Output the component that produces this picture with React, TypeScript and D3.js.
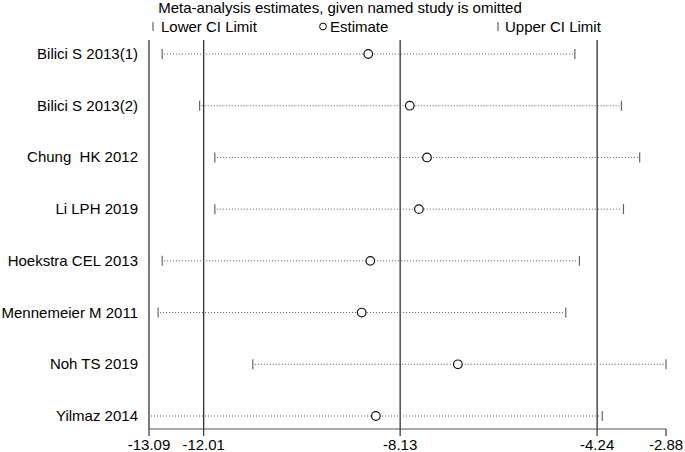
import * as d3 from "d3";

const studies = [
  "Bilici S 2013(1)",
  "Bilici S 2013(2)",
  "Chung  HK 2012",
  "Li LPH 2019",
  "Hoekstra CEL 2013",
  "Mennemeier M 2011",
  "Noh TS 2019",
  "Yilmaz 2014",
];
const lower = [-12.83, -12.09, -11.79, -11.79, -12.83, -12.91, -11.04, -13.09];
const estimate = [-8.76, -7.94, -7.6, -7.76, -8.72, -8.89, -6.99, -8.61];
const upper = [-4.68, -3.76, -3.4, -3.72, -4.59, -4.86, -2.88, -4.14];

const tickValues = [-13.09, -12.01, -8.13, -4.24, -2.88];
const refLines = [-12.01, -8.13, -4.24];

const W = 685;
const H = 452;
const font = "'Liberation Sans', Arial, sans-serif";

export default function App() {
  const x = d3.scaleLinear().domain([-13.09, -2.88]).range([149, 666]);
  const y = d3.scalePoint().domain(studies).range([54, 416]);
  const top = 40;
  const axisY = 429;

  return (
    <svg
      width={W}
      height={H}
      style={{ position: "absolute", left: 0, top: 0, background: "#fff" }}
      fontFamily={font}
    >
      <text x={340} y={12.5} fontSize={15} textAnchor="middle" fill="#000">
        Meta-analysis estimates, given named study is omitted
      </text>

      {/* legend */}
      <g fontSize={15} fill="#000">
        <line x1={153} x2={153} y1={22} y2={31} stroke="#666" strokeWidth={1.2} />
        <text x={161} y={31.5}>Lower CI Limit</text>
        <circle cx={323} cy={26.5} r={3.4} fill="none" stroke="#000" strokeWidth={1} />
        <text x={330} y={31.5}>Estimate</text>
        <line x1={498} x2={498} y1={22} y2={31} stroke="#666" strokeWidth={1.2} />
        <text x={505} y={31.5}>Upper CI Limit</text>
      </g>

      {/* reference lines */}
      {refLines.map((v) => (
        <line key={v} x1={x(v)} x2={x(v)} y1={top} y2={axisY} stroke="#222" strokeWidth={1.2} />
      ))}
      <line x1={x(-13.09)} x2={x(-13.09)} y1={top} y2={axisY} stroke="#222" strokeWidth={1.2} />

      {/* study rows */}
      {studies.map((s, i) => {
        const yy = y(s)!;
        return (
          <g key={s}>
            <text
              x={138}
              y={yy + 5}
              fontSize={15}
              textAnchor="end"
              fill="#000"
              style={{ whiteSpace: "pre" }}
            >
              {s}
            </text>
            <line
              x1={x(lower[i]) + 2}
              x2={x(upper[i]) - 2}
              y1={yy}
              y2={yy}
              stroke="#555"
              strokeWidth={1}
              strokeDasharray="1,2"
            />
            {i !== studies.length - 1 && (
              <line x1={x(lower[i])} x2={x(lower[i])} y1={yy - 5} y2={yy + 5} stroke="#666" strokeWidth={1.2} />
            )}
            <line x1={x(upper[i])} x2={x(upper[i])} y1={yy - 5} y2={yy + 5} stroke="#666" strokeWidth={1.2} />
            <circle cx={x(estimate[i])} cy={yy} r={4.3} fill="#fff" stroke="#111" strokeWidth={1.2} />
          </g>
        );
      })}

      {/* x axis */}
      <line x1={x(-13.09)} x2={x(-2.88)} y1={axisY} y2={axisY} stroke="#555" strokeWidth={1.2} />
      {tickValues.map((v) => (
        <g key={v}>
          <line x1={x(v)} x2={x(v)} y1={axisY} y2={axisY + 7} stroke="#333" strokeWidth={1.2} />
          <text x={x(v)} y={450} fontSize={15} textAnchor="middle" fill="#000">
            {v.toFixed(2)}
          </text>
        </g>
      ))}
    </svg>
  );
}
